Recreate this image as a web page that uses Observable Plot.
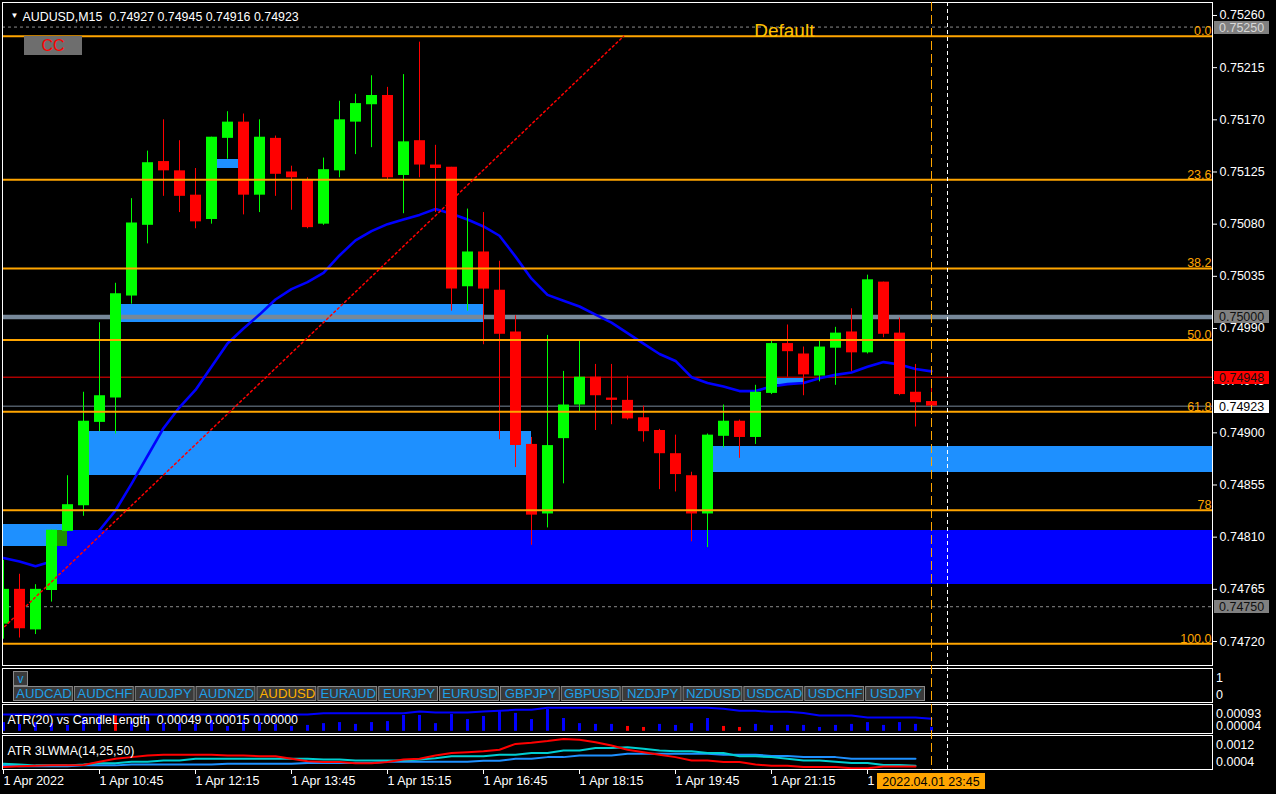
<!DOCTYPE html>
<html>
<head>
<meta charset="utf-8">
<script src="https://cdn.jsdelivr.net/npm/d3@7"></script>
<script src="https://cdn.jsdelivr.net/npm/@observablehq/plot@0.6"></script>
<style>
html,body{margin:0;padding:0;background:#000;overflow:hidden;}
#chart{position:relative;width:1276px;height:794px;background:#000;overflow:hidden;font-family:"Liberation Sans",Arial,sans-serif;}
#chart svg{position:absolute;left:0;}
.ui-btn{position:absolute;box-sizing:border-box;display:flex;align-items:center;justify-content:center;line-height:1;}
</style>
</head>
<body>
<div id="chart"></div>
<script>
// ---------------- DATA ----------------
const symbolLabel = "AUDUSD,M15";
const headerOHLC = [0.74927, 0.74945, 0.74916, 0.74923];

// 15-minute candles, 1 Apr 2022 09:15 ... 23:45 (bar index 0..58)
const opens = [
  0.74735,0.74765,0.74730,0.74764,0.74815,0.74837,0.74909,0.74930,0.75018,0.75079,
  0.75134,0.75126,0.75105,0.75084,0.75154,0.75168,0.75105,0.75154,0.75125,0.75118,
  0.75080,0.75126,0.75168,0.75183,0.75191,0.75122,0.75152,0.75131,0.75129,0.75026,
  0.75056,0.75023,0.74987,0.74890,0.74830,0.74895,0.74924,0.74948,0.74930,0.74928,
  0.74913,0.74902,0.74882,0.74863,0.74830,0.74897,0.74910,0.74896,0.74934,0.74977,
  0.74968,0.74949,0.74973,0.74987,0.74969,0.75030,0.74986,0.74935,0.74927];
const highs = [
  0.74790,0.74778,0.74769,0.74816,0.74863,0.74935,0.74995,0.75029,0.75102,0.75143,
  0.75170,0.75152,0.75128,0.75155,0.75177,0.75175,0.75170,0.75156,0.75130,0.75120,
  0.75137,0.75186,0.75192,0.75208,0.75198,0.75209,0.75237,0.75148,0.75129,0.75093,
  0.75090,0.75048,0.75001,0.74896,0.74984,0.74953,0.74980,0.74959,0.74959,0.74949,
  0.74923,0.74903,0.74898,0.74866,0.74899,0.74924,0.74911,0.74941,0.74980,0.74993,
  0.74974,0.74979,0.74991,0.75007,0.75036,0.75030,0.74999,0.74959,0.74945];
const lows = [
  0.74722,0.74723,0.74726,0.74754,0.74815,0.74828,0.74901,0.74899,0.75011,0.75063,
  0.75104,0.75090,0.75076,0.75080,0.75136,0.75088,0.75090,0.75104,0.75092,0.75076,
  0.75079,0.75120,0.75140,0.75146,0.75118,0.75089,0.75120,0.75090,0.75005,0.75005,
  0.74976,0.74894,0.74870,0.74803,0.74818,0.74856,0.74918,0.74902,0.74907,0.74911,
  0.74892,0.74851,0.74849,0.74806,0.74801,0.74887,0.74878,0.74890,0.74933,0.74948,
  0.74932,0.74944,0.74941,0.74953,0.74968,0.74982,0.74932,0.74905,0.74916];
const closes = [
  0.74765,0.74731,0.74765,0.74816,0.74838,0.74910,0.74932,0.75020,0.75081,0.75133,
  0.75126,0.75104,0.75082,0.75155,0.75168,0.75105,0.75155,0.75123,0.75120,0.75077,
  0.75127,0.75170,0.75184,0.75191,0.75120,0.75151,0.75131,0.75128,0.75024,0.75056,
  0.75024,0.74985,0.74889,0.74829,0.74889,0.74924,0.74948,0.74932,0.74928,0.74912,
  0.74901,0.74882,0.74864,0.74830,0.74898,0.74910,0.74896,0.74935,0.74977,0.74970,
  0.74950,0.74974,0.74986,0.74969,0.75032,0.74985,0.74933,0.74926,0.74923];

// moving average (blue)
const ma20 = [
  0.74792,0.74789,0.74785,0.74789,0.74796,0.74805,0.74816,0.74833,0.74856,0.74880,
  0.74904,0.74922,0.74937,0.74957,0.74977,0.74990,0.75002,0.75015,0.75024,0.75030,
  0.75038,0.75053,0.75066,0.75074,0.75080,0.75084,0.75088,0.75093,0.75089,0.75084,
  0.75078,0.75070,0.75052,0.75033,0.75019,0.75014,0.75009,0.75002,0.74995,0.74986,
  0.74977,0.74968,0.74962,0.74948,0.74943,0.74940,0.74936,0.74936,0.74940,0.74942,
  0.74943,0.74947,0.74950,0.74952,0.74957,0.74961,0.74959,0.74955,0.74953];

// price levels
const yTicks = [0.75260,0.75215,0.75170,0.75125,0.75080,0.75035,0.74990,0.74945,0.74900,0.74855,0.74810,0.74765,0.74720];
const dashedLevels = [0.75250, 0.74750];
const roundLevels = [0.75000];
const askPrice = 0.74948;
const bidPrice = 0.74923;
const tagPrices = [0.75250, 0.75000, 0.74948, 0.74923, 0.74750];
const tagKinds  = ["grayLight", "gray", "ask", "bid", "gray"];

// Fibonacci retracement
const fibHigh = 0.75242;
const fibLow = 0.74718;
const fibLevels = [0, 23.6, 38.2, 50, 61.8, 78, 100];
const fibLabels = ["0.0", "23.6", "38.2", "50.0", "61.8", "78", "100.0"];
const trendBars = [-1.06, 38.75];
const trendPrices = [0.74718, 0.75242];

// supply / demand zones (bar index start/end, null = chart edge)
const zoneStart  = [7, 5, 44, 13, 48, 3, null];
const zoneEnd    = [30, 33, null, 15, 50, null, 4];
const zoneTop    = [0.75011, 0.74901, 0.74888, 0.75136, 0.74947, 0.74816, 0.74821];
const zoneBottom = [0.74995, 0.74863, 0.74866, 0.75128, 0.74942, 0.74769, 0.74802];
const zoneKind   = ["light", "light", "light", "light", "light", "dark", "light"];

const annotationText = ["Default"];
const annotationBar = [48.8];
const annotationPrice = [0.75247];

// symbol buttons
const symbols = ["AUDCAD","AUDCHF","AUDJPY","AUDNZD","AUDUSD","EURAUD","EURJPY","EURUSD","GBPJPY","GBPUSD","NZDJPY","NZDUSD","USDCAD","USDCHF","USDJPY"];
const activeSymbol = "AUDUSD";

// ATR(20) vs CandleLength
const atrTitle = "ATR(20) vs CandleLength\u00a0 0.00049 0.00015 0.00000";
const candleLen = [
  0.00034,0.00027,0.00034,0.00030,0.00023,0.00050,0.00066,0.00066,0.00038,0.00038,
  0.00030,0.00030,0.00027,0.00042,0.00019,0.00042,0.00034,0.00027,0.00019,0.00023,
  0.00030,0.00034,0.00027,0.00034,0.00038,0.00062,0.00062,0.00030,0.00066,0.00046,
  0.00058,0.00077,0.00070,0.00046,0.00085,0.00050,0.00030,0.00027,0.00027,0.00019,
  0.00015,0.00027,0.00023,0.00030,0.00050,0.00019,0.00015,0.00027,0.00023,0.00023,
  0.00023,0.00015,0.00023,0.00027,0.00034,0.00023,0.00034,0.00027,0.00015];
const redLenBars = [7, 39, 40, 45, 46];
const atr20 = [
  0.00066,0.00066,0.00066,0.00066,0.00066,0.00066,0.00066,0.00066,0.00066,0.00066,
  0.00066,0.00066,0.00066,0.00066,0.00066,0.00066,0.00066,0.00066,0.00066,0.00066,
  0.00071,0.00071,0.00071,0.00071,0.00071,0.00071,0.00077,0.00074,0.00074,0.00074,
  0.00077,0.00080,0.00084,0.00084,0.00092,0.00092,0.00092,0.00092,0.00092,0.00092,
  0.00092,0.00092,0.00092,0.00092,0.00092,0.00088,0.00080,0.00080,0.00076,0.00076,
  0.00072,0.00062,0.00062,0.00062,0.00054,0.00054,0.00054,0.00054,0.00049];
const atrScaleLabels = ["0.00093", "0.00004"];

// ATR 3LWMA(14,25,50)
const lwmaTitle = "ATR 3LWMA(14,25,50)";
const lwmaFast = [
  0.00046,0.00048,0.00049,0.00050,0.00050,0.00051,0.00059,0.00066,0.00070,0.00074,
  0.00076,0.00076,0.00076,0.00076,0.00074,0.00074,0.00072,0.00072,0.00066,0.00060,
  0.00058,0.00058,0.00055,0.00055,0.00058,0.00064,0.00066,0.00074,0.00080,0.00082,
  0.00084,0.00088,0.00102,0.00105,0.00109,0.00114,0.00112,0.00106,0.00098,0.00088,
  0.00082,0.00076,0.00070,0.00062,0.00062,0.00058,0.00058,0.00052,0.00049,0.00049,
  0.00046,0.00046,0.00046,0.00043,0.00043,0.00047,0.00047,0.00047];
const lwmaMid = [
  0.00054,0.00052,0.00050,0.00050,0.00050,0.00052,0.00055,0.00055,0.00059,0.00059,
  0.00062,0.00062,0.00066,0.00066,0.00066,0.00066,0.00066,0.00066,0.00066,0.00066,
  0.00064,0.00064,0.00062,0.00062,0.00062,0.00062,0.00064,0.00067,0.00072,0.00072,
  0.00072,0.00076,0.00076,0.00080,0.00080,0.00086,0.00086,0.00092,0.00092,0.00094,
  0.00090,0.00086,0.00084,0.00084,0.00080,0.00080,0.00072,0.00072,0.00070,0.00066,
  0.00062,0.00062,0.00059,0.00056,0.00056,0.00051,0.00051,0.00049];
const lwmaSlow = [
  0.00051,0.00048,0.00048,0.00048,0.00048,0.00050,0.00050,0.00050,0.00052,0.00052,
  0.00052,0.00052,0.00052,0.00052,0.00054,0.00054,0.00054,0.00054,0.00054,0.00056,
  0.00056,0.00056,0.00056,0.00056,0.00059,0.00059,0.00059,0.00059,0.00059,0.00059,
  0.00061,0.00061,0.00066,0.00066,0.00070,0.00070,0.00074,0.00074,0.00074,0.00078,
  0.00078,0.00078,0.00078,0.00078,0.00078,0.00076,0.00076,0.00076,0.00073,0.00073,
  0.00070,0.00070,0.00070,0.00066,0.00066,0.00066,0.00066,0.00066];
const lwmaScaleLabels = ["0.0012", "0.0004"];

// time axis
const tickBars = [0, 6, 12, 18, 24, 30, 36, 42, 48, 54];
const tickLabels = ["1 Apr 2022","1 Apr 10:45","1 Apr 12:15","1 Apr 13:45","1 Apr 15:15","1 Apr 16:45","1 Apr 18:15","1 Apr 19:45","1 Apr 21:15","1 Apr 22:45"];
const lastBar = 58;
const lastBarLabel = "2022.04.01 23:45";
const shiftBar = 59;

// ---------------- RENDER ----------------
const chart = document.getElementById("chart");
const FONT = "'Liberation Sans', Arial, sans-serif";
const W = 1276;
const xDomain = [-0.0625, 75.5625];
const baseStyle = {background: "transparent", color: "white", fontFamily: FONT, fontSize: "12.5px", overflow: "visible"};
const BULL = "#00FF00", BEAR = "#FF0000";

const candles = opens.map((o, i) => ({i, o, h: highs[i], l: lows[i], c: closes[i]}));
const candleColor = d => d.c >= d.o ? BULL : BEAR;

const zoneFill = {light: "#1E90FF", dark: "#0000FF"};
const overlapFill = "#1E9000";
const zones = zoneTop.map((t, k) => ({
  x1: zoneStart[k] == null ? xDomain[0] - 1 : zoneStart[k],
  x2: zoneEnd[k] == null ? xDomain[1] : zoneEnd[k],
  top: t, bottom: zoneBottom[k], kind: zoneKind[k]
}));
const overlaps = [];
for (const a of zones) for (const b of zones) {
  if (a.kind !== "light" || b.kind !== "dark") continue;
  const x1 = Math.max(a.x1, b.x1), x2 = Math.min(a.x2, b.x2);
  const lo = Math.max(a.bottom, b.bottom), hi = Math.min(a.top, b.top);
  if (x2 > x1 && hi > lo) overlaps.push({x1, x2, top: hi, bottom: lo});
}
const fibPrice = L => fibHigh - (fibHigh - fibLow) * L / 100;
const trendPts = trendBars.map((b, k) => ({i: b, p: trendPrices[k]}));
const annotations = annotationText.map((t, k) => ({text: t, i: annotationBar[k], p: annotationPrice[k]}));
const headerText = symbolLabel + "\u00a0 " + headerOHLC.map(d3.format(".5f")).join(" ");

const tagStyle = {
  gray: {bg: "#808080", fg: "#101010"},
  grayLight: {bg: "#808080", fg: "#d8d8d8"},
  ask: {bg: "#FF0000", fg: "#101010"},
  bid: {bg: "#FFFFFF", fg: "#000000"}
};
function priceTags() {
  return (index, scales, values, dims) => {
    const g = d3.create("svg:g").attr("font-size", 12.5).attr("text-anchor", "start");
    const x0 = dims.width - dims.marginRight;
    tagPrices.forEach((p, k) => {
      const y = Math.round(scales.y(p)) + 0.5;
      const st = tagStyle[tagKinds[k]];
      g.append("rect").attr("x", x0 + 2).attr("y", y - 6.5).attr("width", 55).attr("height", 13).attr("fill", st.bg);
      g.append("text").attr("x", x0 + 7).attr("y", y).attr("dy", "0.36em").attr("fill", st.fg).text(d3.format(".5f")(p));
    });
    return g.node();
  };
}
function sideLabels(labels) {
  return (index, scales, values, dims) => {
    const g = d3.create("svg:g").attr("fill", "white").attr("font-size", 12.5).attr("text-anchor", "start");
    const x = dims.width - dims.marginRight + 4;
    g.append("text").attr("x", x).attr("y", dims.marginTop + 9.5).attr("dy", "0.35em").text(labels[0]);
    g.append("text").attr("x", x).attr("y", dims.height - dims.marginBottom - 7).attr("dy", "0.35em").text(labels[1]);
    return g.node();
  };
}
function place(svg, top) {
  svg.style.position = "absolute";
  svg.style.top = top + "px";
  svg.style.left = "0px";
  chart.appendChild(svg);
}

// Main price panel
const mainSvg = Plot.plot({
  width: W, height: 667,
  marginLeft: 2, marginRight: 64, marginTop: 2, marginBottom: 2,
  style: baseStyle,
  x: {type: "linear", domain: xDomain, axis: null},
  y: {type: "linear", domain: [0.746993, 0.752712], axis: null},
  marks: [
    Plot.rect(zones, {x1: "x1", x2: "x2", y1: "bottom", y2: "top", fill: d => zoneFill[d.kind], clip: true, shapeRendering: "crispEdges"}),
    Plot.rect(overlaps, {x1: "x1", x2: "x2", y1: "bottom", y2: "top", fill: overlapFill, clip: true, shapeRendering: "crispEdges"}),
    Plot.ruleY(dashedLevels, {stroke: "#8c8c8c", strokeDasharray: "3,3"}),
    Plot.ruleY(roundLevels, {stroke: "#778899", strokeWidth: 4.5}),
    Plot.ruleY([askPrice], {stroke: "#FF0000"}),
    Plot.ruleY([bidPrice], {stroke: "#778899"}),
    Plot.line(ma20, {x: (d, i) => i, y: d => d, stroke: "#0000FF", strokeWidth: 2.6, clip: true}),
    Plot.ruleX(candles, {x: "i", y1: "l", y2: "h", stroke: candleColor, clip: true}),
    Plot.ruleX(candles, {x: "i", y1: "o", y2: "c", stroke: candleColor, strokeWidth: 11, clip: true}),
    Plot.ruleY(fibLevels, {y: fibPrice, stroke: "#FFA500", strokeWidth: 2}),
    Plot.text(fibLevels, {x: () => xDomain[1], y: fibPrice, text: (d, i) => fibLabels[i], textAnchor: "end", lineAnchor: "bottom", dx: -1, dy: -1, fill: "#FFA500", fontSize: 12.5}),
    Plot.line(trendPts, {x: "i", y: "p", stroke: "#FF0000", strokeDasharray: "2,3", clip: true}),
    Plot.text(["\u25BC"], {text: d => d, frameAnchor: "top-left", dx: 8, dy: 10, fontSize: 8, fill: "white"}),
    Plot.text([headerText], {text: d => d, frameAnchor: "top-left", dx: 20, dy: 10, textAnchor: "start", fill: "white", fontSize: 12.4}),
    Plot.text(annotations, {x: "i", y: "p", text: "text", fill: "#FFC000", fontSize: 19}),
    Plot.axisY({anchor: "right", ticks: yTicks, tickFormat: d3.format(".5f"), tickSize: 4, tickPadding: 3, label: null, fontSize: 12.5}),
    priceTags(),
    Plot.frame({stroke: "white"})
  ]
});
place(mainSvg, 0);

// Symbol buttons panel
const btnSvg = Plot.plot({
  width: W, height: 38,
  marginLeft: 2, marginRight: 64, marginTop: 2, marginBottom: 2,
  style: baseStyle,
  x: {type: "band", domain: symbols, range: [13, 926], padding: 0, round: false, axis: null},
  y: {type: "band", domain: ["row"], range: [20, 35], padding: 0, round: false, axis: null},
  marks: [
    Plot.cell(symbols, {x: d => d, y: () => "row", fill: "#3a3a3a", stroke: "#8a8a8a", insetLeft: 0.5, insetRight: 1.5, insetTop: 0.5, insetBottom: 0.5}),
    Plot.text(symbols, {x: d => d, y: () => "row", text: d => d, fill: d => d === activeSymbol ? "#FFB000" : "#1EA0E8", fontSize: 13.2}),
    Plot.frame({stroke: "white"}),
    sideLabels(["1", "0"])
  ]
});
place(btnSvg, 666);

// ATR(20) panel
const atrSvg = Plot.plot({
  width: W, height: 33,
  marginLeft: 2, marginRight: 64, marginTop: 2, marginBottom: 2,
  style: baseStyle,
  x: {type: "linear", domain: xDomain, axis: null},
  y: {type: "linear", domain: [-0.000086, 0.001048], axis: null},
  marks: [
    Plot.ruleX(candleLen, {x: (d, i) => i, y1: 0, y2: d => d, stroke: (d, i) => redLenBars.includes(i) ? "#FF0000" : "#0000FF", strokeWidth: 3, clip: true}),
    Plot.line(atr20, {x: (d, i) => i, y: d => d, stroke: "#0000FF", strokeWidth: 2, clip: true}),
    Plot.text([atrTitle], {text: d => d, frameAnchor: "top-left", dx: 5, dy: 11, textAnchor: "start", fill: "white", fontSize: 12.4}),
    Plot.frame({stroke: "white"}),
    sideLabels(atrScaleLabels)
  ]
});
place(atrSvg, 702);

// ATR 3LWMA panel
const lwmaSvg = Plot.plot({
  width: W, height: 38,
  marginLeft: 2, marginRight: 64, marginTop: 2, marginBottom: 2,
  style: baseStyle,
  x: {type: "linear", domain: xDomain, axis: null},
  y: {type: "linear", domain: [0.0004, 0.001224], axis: null},
  marks: [
    Plot.line(lwmaSlow, {x: (d, i) => i, y: d => d, stroke: "#1E90FF", strokeWidth: 2, clip: true}),
    Plot.line(lwmaMid, {x: (d, i) => i, y: d => d, stroke: "#00CED1", strokeWidth: 2, clip: true}),
    Plot.line(lwmaFast, {x: (d, i) => i, y: d => d, stroke: "#FF0000", strokeWidth: 2, clip: true}),
    Plot.text([lwmaTitle], {text: d => d, frameAnchor: "top-left", dx: 5, dy: 11, textAnchor: "start", fill: "white", fontSize: 12.4}),
    Plot.frame({stroke: "white"}),
    sideLabels(lwmaScaleLabels)
  ]
});
place(lwmaSvg, 733);

// Time axis
const timeSvg = Plot.plot({
  width: W, height: 25,
  marginLeft: 2, marginRight: 64, marginTop: 0, marginBottom: 24,
  style: baseStyle,
  x: {type: "linear", domain: xDomain, axis: null},
  marks: [
    Plot.axisX({anchor: "bottom", ticks: tickBars, tickFormat: d => tickLabels[tickBars.indexOf(d)], tickSize: 4, tickPadding: 2, textAnchor: "start", label: null, fontSize: 12.5}),
    (index, scales, values, dims) => {
      const g = d3.create("svg:g");
      const cx = Math.round(scales.x(lastBar));
      g.append("rect").attr("x", cx - 54).attr("y", 4).attr("width", 108).attr("height", 16).attr("fill", "#FFA500");
      g.append("text").attr("x", cx).attr("y", 12).attr("dy", "0.36em").attr("text-anchor", "middle").attr("fill", "#000").attr("font-size", 12.5).text(lastBarLabel);
      return g.node();
    }
  ]
});
place(timeSvg, 769);

// Vertical markers across all panels
const overlaySvg = Plot.plot({
  width: W, height: 771,
  marginLeft: 2, marginRight: 64, marginTop: 2, marginBottom: 1,
  style: Object.assign({}, baseStyle, {pointerEvents: "none"}),
  x: {type: "linear", domain: xDomain, axis: null},
  marks: [
    Plot.ruleX([lastBar], {stroke: "#FFA500", strokeDasharray: "9,4"}),
    Plot.ruleX([shiftBar], {stroke: "#FFFFFF", strokeDasharray: "4,3"})
  ]
});
place(overlaySvg, 0);

// Chart buttons (UI objects)
const cc = document.createElement("div");
cc.className = "ui-btn";
Object.assign(cc.style, {left: "24px", top: "36px", width: "58px", height: "19px", background: "#6e6e6e", color: "#FF0000", fontSize: "16px", fontFamily: FONT});
cc.textContent = "CC";
chart.appendChild(cc);

const vb = document.createElement("div");
vb.className = "ui-btn";
Object.assign(vb.style, {left: "13px", top: "671px", width: "15px", height: "15px", background: "#3a3a3a", border: "1px solid #8a8a8a", color: "#1EA0E8", fontSize: "12px", fontFamily: FONT});
vb.textContent = "v";
chart.appendChild(vb);
</script>
</body>
</html>
